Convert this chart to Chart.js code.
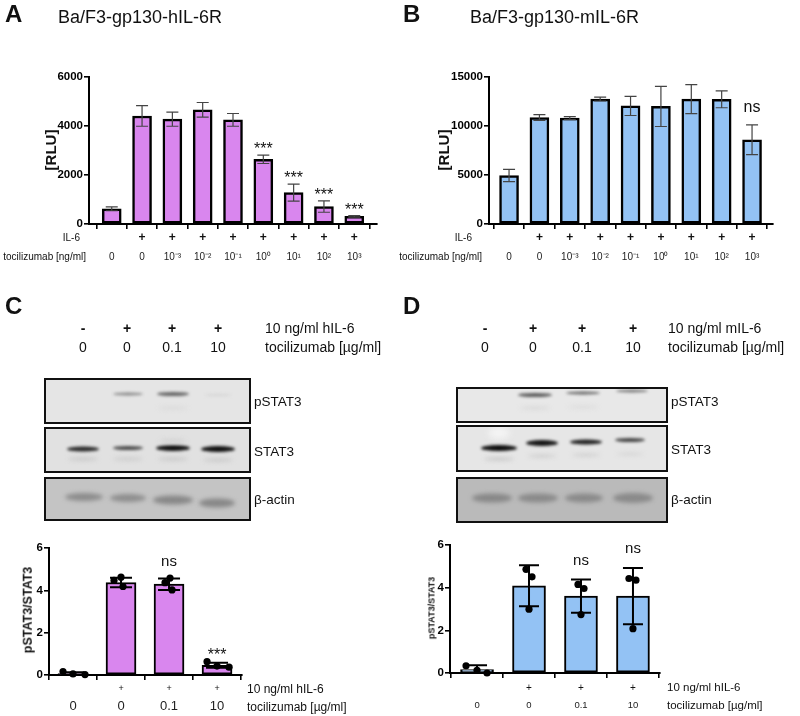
<!DOCTYPE html>
<html>
<head>
<meta charset="utf-8">
<script src="https://cdn.jsdelivr.net/npm/chart.js@4.4.1/dist/chart.umd.min.js"></script>
<style>
  body { margin: 0; background: #fff; font-family: Arial, "Liberation Sans", sans-serif; }
  #fig { position: relative; width: 800px; height: 716px; overflow: hidden; }
  #fig canvas { position: absolute; }
  .t { position: absolute; white-space: nowrap; color: #111; line-height: 1; }
</style>
</head>
<body>
<div id="fig">
  <canvas id="blots" width="800" height="716" style="left:0;top:0"></canvas>
  <canvas id="chartA" width="400" height="215" style="left:0;top:60px"></canvas>
  <canvas id="chartB" width="400" height="215" style="left:400px;top:60px"></canvas>
  <canvas id="chartC" width="400" height="186" style="left:0;top:530px"></canvas>
  <canvas id="chartD" width="400" height="186" style="left:400px;top:530px"></canvas>
</div>
<script>
// ---- data ----
const il6Rows = ['', '+', '+', '+', '+', '+', '+', '+', '+'];
const tociNg = ['0', '0', '10⁻³', '10⁻²', '10⁻¹', '10⁰', '10¹', '10²', '10³'];

const rluA = [620, 4410, 4280, 4660, 4250, 2640, 1280, 710, 310];
const sdA = [80, 420, 290, 300, 260, 170, 350, 230, 30];
const sigA = ['', '', '', '', '', '***', '***', '***', '***'];

const rluB = [4950, 10860, 10800, 12750, 12050, 12000, 12750, 12720, 8600];
const sdB = [620, 300, 150, 200, 980, 2050, 1480, 860, 1520];
const sigB = ['', '', '', '', '', '', '', '', 'ns'];

const il6Blot = ['', '+', '+', '+'];
const tociUg = ['0', '0', '0.1', '10'];

const ratioC = [0.07, 4.37, 4.29, 0.46];
const sdC = [0.06, 0.22, 0.27, 0.12];
const dotsC = [[0.16, 0.05, 0.02], [4.47, 4.62, 4.18], [4.36, 4.58, 4.02], [0.63, 0.42, 0.37]];
const sigC = ['', '', 'ns', '***'];

const ratioD = [0.16, 4.09, 3.6, 3.6];
const sdD = [0.2, 0.96, 0.78, 1.32];
const dotsD = [[0.34, 0.13, 0.0], [4.86, 4.51, 2.99], [4.15, 3.96, 2.74], [4.43, 4.35, 2.08]];
const sigD = ['', '', 'ns', 'ns'];

// ---- styling ----
const FONT = 'Arial, "Liberation Sans", sans-serif';
Chart.defaults.font.family = FONT;
const purple = '#d986ee';
const blue = '#93c2f4';
const jitterC = [[-10, 0, 12], [-7, 0, 2], [-4, 1, 3], [-10, 0, 12]];
const jitterD = [[-11, 0, 10], [-3, 3, 0], [-3, 3, 0], [-4, 3, 0]];

const fig = document.getElementById('fig');
function txt(s, x, y, o = {}) {
  const d = document.createElement('div');
  d.className = 't';
  d.textContent = s;
  d.style.left = x + 'px';
  d.style.top = y + 'px';
  d.style.fontSize = (o.size || 12) + 'px';
  if (o.bold) d.style.fontWeight = 'bold';
  const tx = o.align === 'right' ? '-100%' : o.align === 'center' ? '-50%' : '0';
  d.style.transform = 'translate(' + tx + ',-50%)' + (o.rot ? ' rotate(-90deg)' : '');
  fig.appendChild(d);
}

// error bars, dots, significance marks and the "+" row
function overlay(o) {
  return {
    id: 'overlay',
    afterDatasetsDraw(chart) {
      const { ctx, chartArea } = chart;
      const x = chart.scales.x, y = chart.scales.y;
      ctx.save();
      o.values.forEach((v, i) => {
        const px = x.getPixelForValue(i);
        const top = y.getPixelForValue(v + o.sd[i]);
        const bot = y.getPixelForValue(Math.max(v - o.sd[i], 0));
        ctx.strokeStyle = o.errColor;
        ctx.lineWidth = o.errW;
        ctx.beginPath();
        ctx.moveTo(px, top); ctx.lineTo(px, bot);
        ctx.moveTo(px - o.cap, top); ctx.lineTo(px + o.cap, top);
        ctx.moveTo(px - o.cap, bot); ctx.lineTo(px + o.cap, bot);
        ctx.stroke();
        if (o.dots) {
          ctx.fillStyle = '#000';
          o.dots[i].forEach((p, j) => {
            ctx.beginPath();
            ctx.arc(px + o.jitter[i][j], y.getPixelForValue(p), o.dotR, 0, Math.PI * 2);
            ctx.fill();
          });
        }
        ctx.fillStyle = '#111';
        ctx.textAlign = 'center';
        if (o.sig[i]) {
          ctx.font = (o.sig[i] === 'ns' ? o.nsSize : o.starSize) + 'px ' + FONT;
          ctx.textBaseline = 'alphabetic';
          ctx.fillText(o.sig[i], px, top - (o.sig[i] === 'ns' ? o.nsGap : o.starGap));
        }
        if (o.plus[i]) {
          ctx.font = o.plusFont;
          ctx.textBaseline = 'middle';
          ctx.fillText(o.plus[i], px, chartArea.bottom + o.plusOff);
        }
      });
      ctx.restore();
    }
  };
}

function barChart(id, o) {
  const axisLine = { color: '#000', width: 2 };
  const tickGrid = { drawOnChartArea: false, drawTicks: true, tickLength: 5, color: '#000', lineWidth: 1.6 };
  return new Chart(document.getElementById(id), {
    type: 'bar',
    data: {
      datasets: [{
        data: o.values.map((v, i) => ({ x: i, y: v })),
        backgroundColor: o.color,
        borderColor: '#000',
        borderWidth: o.bw,
        borderSkipped: false,
        barThickness: o.barW
      }]
    },
    options: {
      responsive: false,
      animation: false,
      layout: { padding: { top: o.padTop, right: o.padRight, left: 0, bottom: 0 } },
      plugins: { legend: { display: false }, tooltip: { enabled: false } },
      scales: {
        x: {
          type: 'linear', min: o.xmin, max: o.xmax, offset: false,
          afterBuildTicks: s => { s.ticks = o.values.map((_, i) => ({ value: i })); },
          afterFit: s => { s.height = o.xH; },
          border: axisLine,
          grid: tickGrid,
          ticks: {
            autoSkip: false, maxRotation: 0, padding: o.xPad, color: '#222',
            font: { size: o.xFont },
            callback: v => o.conc[v]
          }
        },
        y: {
          min: 0, max: o.ymax,
          afterFit: s => { s.width = o.yW; },
          border: axisLine,
          grid: tickGrid,
          ticks: {
            stepSize: o.step, padding: 1, color: '#000', font: { size: 11.5, weight: 'bold' },
            callback: v => String(v)
          }
        }
      }
    },
    plugins: [overlay(o)]
  });
}

const topCommon = {
  conc: tociNg, plus: il6Rows, bw: 2.5, barW: 19, padTop: 17, xH: 51, xPad: 22, xFont: 10,
  yW: 89, errColor: '#444', errW: 1.2, cap: 6,
  plusFont: 'bold 12px ' + FONT, plusOff: 14, starSize: 16, nsSize: 16
};
barChart('chartA', Object.assign({}, topCommon, {
  values: rluA, sd: sdA, sig: sigA, color: purple, ymax: 6000, step: 2000,
  padRight: 23, xmin: -0.75, xmax: 8.75, starGap: 1, nsGap: 13
}));
barChart('chartB', Object.assign({}, topCommon, {
  values: rluB, sd: sdB, sig: sigB, color: blue, ymax: 15000, step: 5000,
  padRight: 27, xmin: -0.66, xmax: 8.69, starGap: 1, nsGap: 13
}));
barChart('chartC', {
  values: ratioC, sd: sdC, dots: dotsC, jitter: jitterC, sig: sigC, conc: tociUg, plus: il6Blot,
  color: purple, bw: 2, barW: 30, padTop: 18, padRight: 158, xH: 41, xPad: 19, xFont: 13,
  yW: 49, ymax: 6, step: 2, xmin: -0.5, xmax: 3.52,
  errColor: '#000', errW: 2, cap: 11, dotR: 3.6,
  plusFont: '9px ' + FONT, plusOff: 14, starSize: 16, nsSize: 15, starGap: 3, nsGap: 12
});
barChart('chartD', {
  values: ratioD, sd: sdD, dots: dotsD, jitter: jitterD, sig: sigD, conc: tociUg, plus: il6Blot,
  color: blue, bw: 2, barW: 33, padTop: 15, padRight: 140, xH: 43, xPad: 22, xFont: 9.5,
  yW: 50, ymax: 6, step: 2, xmin: -0.52, xmax: 3.52,
  errColor: '#000', errW: 2, cap: 10, dotR: 3.6,
  plusFont: '10px ' + FONT, plusOff: 15, starSize: 16, nsSize: 15, starGap: 3, nsGap: 15
});

// ---- western blot images ----
const bctx = document.getElementById('blots').getContext('2d');
function blot(box, bg, bands) {
  const [x, y, w, h] = box;
  bctx.save();
  bctx.fillStyle = bg;
  bctx.fillRect(x, y, w, h);
  bctx.beginPath(); bctx.rect(x, y, w, h); bctx.clip();
  bands.forEach(([cx, cy, bw, bh, shade, blur]) => {
    bctx.filter = 'blur(' + (blur || 1.5) + 'px)';
    bctx.fillStyle = shade;
    bctx.beginPath();
    bctx.ellipse(cx, cy, bw / 2, bh / 2, 0, 0, Math.PI * 2);
    bctx.fill();
  });
  bctx.restore();
  bctx.strokeStyle = '#111';
  bctx.lineWidth = 2;
  bctx.strokeRect(x, y, w, h);
}
blot([45, 379, 205, 44], '#e5e5e5', [
  [128, 394, 30, 3, '#8a8a8a'], [173, 394, 32, 4, '#666'], [218, 395, 26, 2, '#d4d4d4'],
  [173, 408, 30, 3, '#d8d8d8', 2]
]);
blot([45, 428, 205, 44], '#e1e1e1', [
  [83, 449, 32, 5, '#2a2a2a'], [128, 448, 30, 4, '#4a4a4a'], [173, 448, 34, 6, '#111'], [218, 449, 34, 6, '#111'],
  [83, 459, 30, 3, '#c4c4c4', 2], [128, 459, 30, 3, '#c8c8c8', 2], [173, 459, 30, 3, '#c4c4c4', 2], [218, 460, 30, 3, '#c4c4c4', 2],
  [173, 441, 26, 4, '#d2d2d2', 2]
]);
blot([45, 478, 205, 42], '#c4c4c4', [
  [84, 497, 38, 8, '#8c8c8c', 2], [128, 498, 36, 8, '#8e8e8e', 2], [173, 500, 40, 9, '#888', 2], [217, 503, 36, 9, '#888', 2]
]);
blot([457, 388, 210, 34], '#e8e8e8', [
  [535, 395, 34, 4, '#5c5c5c'], [583, 393, 34, 3, '#666'], [632, 391, 32, 3, '#7a7a7a'],
  [535, 408, 30, 3, '#d6d6d6', 2], [583, 407, 30, 3, '#dadada', 2]
]);
blot([457, 426, 210, 45], '#e6e6e6', [
  [499, 433, 22, 12, '#f4f4f4', 3],
  [499, 448, 36, 6, '#0d0d0d'], [542, 443, 32, 6, '#151515'], [586, 442, 32, 5, '#222'], [630, 440, 30, 4, '#444'],
  [499, 459, 30, 3, '#c2c2c2', 2], [542, 456, 28, 3, '#cacaca', 2], [586, 455, 28, 3, '#cccccc', 2], [630, 454, 26, 3, '#d2d2d2', 2]
]);
blot([457, 478, 210, 44], '#bababa', [
  [492, 498, 40, 9, '#888', 2], [538, 498, 40, 9, '#8a8a8a', 2], [584, 498, 38, 9, '#8a8a8a', 2], [633, 498, 40, 10, '#8a8a8a', 2]
]);

// ---- text ----
txt('A', 5, 14, { size: 24, bold: true });
txt('Ba/F3-gp130-hIL-6R', 58, 17, { size: 18 });
txt('B', 403, 14, { size: 24, bold: true });
txt('Ba/F3-gp130-mIL-6R', 470, 17, { size: 18 });
txt('[RLU]', 50, 150, { size: 15, bold: true, align: 'center', rot: true });
txt('[RLU]', 443, 150, { size: 15, bold: true, align: 'center', rot: true });
txt('IL-6', 80, 238, { size: 10, align: 'right' });
txt('tocilizumab [ng/ml]', 86, 257, { size: 10, align: 'right' });
txt('IL-6', 472, 238, { size: 10, align: 'right' });
txt('tocilizumab [ng/ml]', 482, 257, { size: 10, align: 'right' });

txt('C', 5, 306, { size: 24, bold: true });
txt('D', 403, 306, { size: 24, bold: true });
const laneC = [83, 127, 172, 218];
const laneD = [485, 533, 582, 633];
['-', '+', '+', '+'].forEach((s, i) => {
  txt(s, laneC[i], 328, { size: 14, bold: true, align: 'center' });
  txt(s, laneD[i], 328, { size: 14, bold: true, align: 'center' });
});
tociUg.forEach((s, i) => {
  txt(s, laneC[i], 347, { size: 14, align: 'center' });
  txt(s, laneD[i], 347, { size: 14, align: 'center' });
});
txt('10 ng/ml hIL-6', 265, 328, { size: 14 });
txt('tocilizumab [µg/ml]', 265, 347, { size: 14 });
txt('10 ng/ml mIL-6', 668, 328, { size: 14 });
txt('tocilizumab [µg/ml]', 668, 347, { size: 14 });
txt('pSTAT3', 254, 402, { size: 13.5 });
txt('STAT3', 254, 452, { size: 13.5 });
txt('β-actin', 254, 500, { size: 13.5 });
txt('pSTAT3', 671, 402, { size: 13.5 });
txt('STAT3', 671, 450, { size: 13.5 });
txt('β-actin', 671, 500, { size: 13.5 });

txt('pSTAT3/STAT3', 28, 610, { size: 12.5, bold: true, align: 'center', rot: true });
txt('pSTAT3/STAT3', 432, 608, { size: 9, bold: true, align: 'center', rot: true });
txt('10 ng/ml hIL-6', 247, 689, { size: 12 });
txt('tocilizumab [µg/ml]', 247, 707, { size: 12 });
txt('10 ng/ml hIL-6', 667, 688, { size: 11.5 });
txt('tocilizumab [µg/ml]', 667, 706, { size: 11.5 });
</script>
</body>
</html>
